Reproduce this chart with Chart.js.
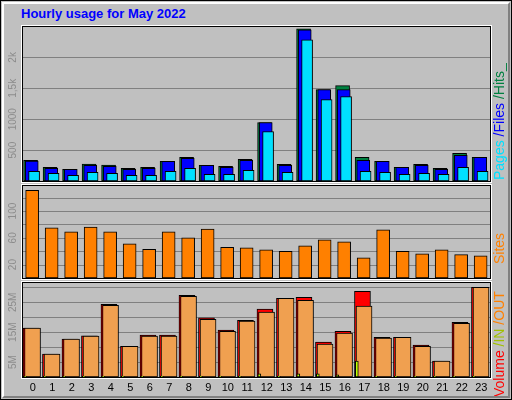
<!DOCTYPE html>
<html><head><meta charset="utf-8">
<script src="https://cdn.jsdelivr.net/npm/chart.js@4"></script>
<style>
html,body{margin:0;padding:0;background:#fff}
#wrap{position:relative;width:512px;height:400px;background:#c0c0c0;box-sizing:border-box;border:1px solid #000}
#wrap:after{content:"";position:absolute;left:1px;top:1px;right:1px;bottom:1px;border:2px solid;border-color:#fff #808080 #808080 #fff;pointer-events:none}
canvas{position:absolute;left:-1px;top:-1px}
#title{position:absolute;left:20px;top:5px;font:bold 13px "Liberation Sans",Arial,sans-serif;color:#0000ff}
</style></head><body>
<div id="wrap"><div id="title">Hourly usage for May 2022</div>
<canvas id="c1" width="512" height="400"></canvas>
<canvas id="c2" width="512" height="400"></canvas>
<canvas id="c3" width="512" height="400"></canvas>
</div>
<script>
const hours = [0,1,2,3,4,5,6,7,8,9,10,11,12,13,14,15,16,17,18,19,20,21,22,23];
const hits  = [333,220,188,274,258,204,220,317,382,253,237,349,946,269,2462,1478,1543,382,317,220,269,204,446,382];
const files = [323,204,188,253,237,188,204,317,366,253,220,333,946,253,2446,1478,1478,333,317,220,253,188,414,382];
const pages = [156,124,91,140,124,91,91,156,204,108,108,172,801,140,2285,1317,1366,156,140,108,124,108,220,156];
const sites = [131,75,69,76,69,51,43,69,60,73,46,45,42,40,48,57,54,30,72,40,36,42,35,33];
const volume= [16.4,7.7,12.7,13.8,24.3,10.3,14.0,14.0,27.3,19.8,15.7,19.0,22.7,26.3,26.7,11.7,15.3,28.7,13.3,13.3,10.7,5.3,18.3,30.0];
const kin   = [0.2,0.2,0.2,0.2,0.2,0.2,0.2,0.2,0.2,0.2,0.2,0.2,1.1,0.2,1.1,1.1,0.7,5.3,0.2,0.2,0.2,0.2,0.2,0.2];
const kout  = [16.4,7.7,12.7,13.7,24.0,10.3,13.7,13.7,27.0,19.3,15.3,18.7,21.7,26.3,25.7,11.0,14.7,23.7,13.0,13.3,10.3,5.3,18.0,30.0];
const topTicks = [[500,'500'],[1000,'1000'],[1500,'1,5k'],[2000,'2k']];
const midTicks = [[20,'20'],[60,'60'],[100,'100']];
const botTicks = [[5,'5M'],[15,'15M'],[25,'25M']];

const FONT='"Liberation Sans",Arial,sans-serif';
function pts(arr,off){return arr.map((v,i)=>({x:hours[i]+off,y:v}));}
function ds(arr,off,w,color,order){return {data:pts(arr,off),backgroundColor:color,borderColor:'#000',borderWidth:1,borderSkipped:false,barThickness:w,grouped:false,order:order};}

function mk(id,pad,max,step,datasets,ticks,rtitle,rtitleY,xlabels){
  const deco={id:'deco',
    beforeDatasetsDraw(c){
      const ctx=c.ctx,a=c.chartArea,y=c.scales.y;
      ctx.save();
      ctx.strokeStyle='#808080';ctx.lineWidth=1;
      for(let v=step;v<max;v+=step){const py=Math.round(y.getPixelForValue(v))+0.5;ctx.beginPath();ctx.moveTo(a.left,py);ctx.lineTo(a.right,py);ctx.stroke();}
      ctx.restore();
    },
    afterDraw(c){
      const ctx=c.ctx,a=c.chartArea,y=c.scales.y,x=c.scales.x;
      ctx.save();
      ctx.strokeStyle='#000';ctx.lineWidth=1;
      ctx.strokeRect(a.left+0.5,a.top+0.5,a.right-a.left,a.bottom-a.top);
      ctx.strokeStyle='#fff';
      ctx.strokeRect(a.left-0.5,a.top-0.5,a.right-a.left+2,a.bottom-a.top+2);
      ctx.fillStyle='#8c8c8c';ctx.font='10px '+FONT;ctx.textAlign='center';ctx.textBaseline='middle';
      for(const [v,l] of ticks){ctx.save();ctx.translate(13,y.getPixelForValue(v));ctx.rotate(-Math.PI/2);ctx.fillText(l,0,0);ctx.restore();}
      ctx.font='14px '+FONT;ctx.textAlign='left';
      ctx.save();ctx.translate(500,rtitleY);ctx.rotate(-Math.PI/2);
      let px=0;for(const [t,col] of rtitle){ctx.fillStyle=col;ctx.fillText(t,px,0);px+=ctx.measureText(t).width;}
      ctx.restore();
      if(xlabels){ctx.fillStyle='#000';ctx.font='11px '+FONT;ctx.textAlign='center';
        hours.forEach(h=>ctx.fillText(String(h),x.getPixelForValue(h)+1,388));}
      ctx.restore();
    }};
  new Chart(document.getElementById(id),{type:'bar',data:{datasets},
    options:{responsive:false,animation:false,devicePixelRatio:1,layout:{padding:pad},
      plugins:{legend:{display:false},tooltip:{enabled:false}},
      scales:{x:{type:'linear',offset:false,min:-0.5,max:23.5,display:false},y:{min:0,max:max,display:false}}},
    plugins:[deco]});
}
mk('c1',{left:22,right:22,top:26,bottom:219},2508,500,
  [ds(pages,0.12,11,'#00e0ff',1),ds(files,0.0,13,'#0000ff',2),ds(hits,-0.06,14,'#008040',3)],
  topTicks,[['Pages ','#00e0ff'],['/Files ','#0000ff'],['/Hits_','#008040']],180,false);
mk('c2',{left:22,right:22,top:185,bottom:122},139,20,
  [ds(sites,0.02,13,'#ff8000',1)],
  midTicks,[['Sites','#ff8000']],264,false);
mk('c3',{left:22,right:22,top:282,bottom:23},31.8,5,
  [ds(kin,-0.33,3,'#c0ff00',1),ds(kout,0.04,16,'#f0a050',2),ds(volume,-0.04,16,'#ff0000',3)],
  botTicks,[['Volume ','#ff0000'],['/IN ','#a0c000'],['/OUT','#ff8000']],397,true);
</script></body></html>
